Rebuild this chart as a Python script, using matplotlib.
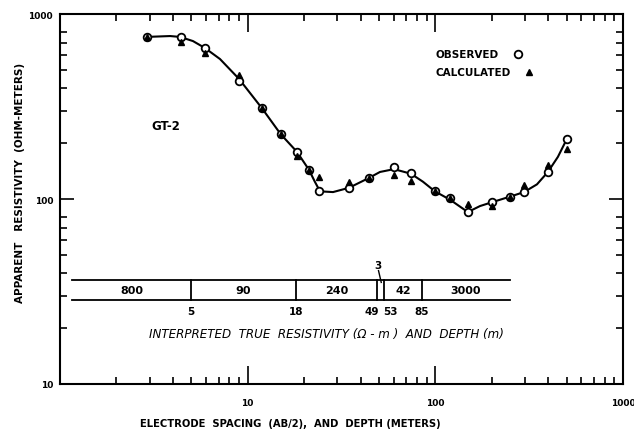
"""Resistivity sounding curve GT-2: observed vs calculated apparent resistivity."""

import matplotlib
matplotlib.use("Agg")
import matplotlib.pyplot as plt
from matplotlib.ticker import FixedLocator, NullFormatter
import numpy as np

# electrode spacing AB/2 (m)
spacing = [2.9, 4.4, 5.9, 9.0, 11.9, 15.0, 18.3, 21.2, 24.0, 34.7, 44.3,
           60.2, 74.1, 99.5, 120, 149, 200, 250, 297, 398, 502]
observed = [752, 752, 655, 434, 310, 224, 180, 144, 110, 115, 130,
            149, 138, 110, 101, 85, 96, 103, 109, 140, 211]
calculated = [752, 706, 615, 468, 310, 224, 171, 144, 132, 124, 130,
              135, 125, 110, 101, 94, 91.6, 103, 119, 153, 186]

# fitted curve as drawn
curve_x = [2.91, 3.86, 4.36, 5.11, 5.92, 7.12, 8.99, 11.9, 15.0, 18.3, 21.2,
           22.8, 24.3, 28.5, 34.7, 44.3, 50.7, 60.2, 74.1, 85.9, 99.5, 120,
           149, 173, 200, 250, 297, 348, 398, 450, 502]
curve_y = [752, 760, 752, 714, 655, 571, 446, 310, 224, 180, 144,
           124, 110, 109, 115, 130, 140, 145, 137, 124, 110, 99,
           85, 91.6, 96, 103, 109, 120, 140, 169, 211]

# interpreted layered model
layer_rho = ["800", "90", "240", "3", "42", "3000"]
layer_depth = [5, 18, 49, 53, 85]
bar_left, bar_right = 1.16, 250
bar_top, bar_bottom = 36.5, 28.3


def ax_frac(px, py):
    # pixel position in the page -> axes fraction
    return (px - 60) / 563, 1 - (py - 15) / 370


fig = plt.figure(figsize=(6.34, 4.35), dpi=100)
ax = fig.add_axes([60 / 634, 1 - 385 / 435, 563 / 634, 370 / 435])
ax.set_xscale("log")
ax.set_yscale("log")
ax.set_xlim(1, 1000)
ax.set_ylim(10, 1000)

ax.plot(curve_x, curve_y, color="black", lw=1.5, zorder=2)
ax.plot(spacing, observed, "o", ms=5.5, mfc="white", mec="black", mew=1.3, zorder=3)
ax.plot(spacing, calculated, "^", ms=5, color="black", zorder=4)

# layer bar
ax.plot([bar_left, bar_right], [bar_top, bar_top], color="black", lw=1.3)
ax.plot([bar_left, bar_right], [bar_bottom, bar_bottom], color="black", lw=1.3)
for d in layer_depth:
    ax.plot([d, d], [bar_bottom, bar_top], color="black", lw=1.3)

edges = [bar_left] + layer_depth + [bar_right]
ymid = np.sqrt(bar_top * bar_bottom)
for i, rho in enumerate(layer_rho):
    xm = np.sqrt(edges[i] * edges[i + 1])
    if rho == "3":
        ax.text(49.5, 44, rho, ha="center", va="center", fontsize=7.5, fontweight="bold")
        ax.plot([49.8, 51.5], [41, bar_top * 0.97], color="black", lw=1)
        continue
    ax.text(xm, ymid, rho, ha="center", va="center", fontsize=8, fontweight="bold")

for d in layer_depth:
    if d == 49:
        ax.text(d * 1.02, 24.8, str(d), ha="right", va="center", fontsize=7.5, fontweight="bold")
    elif d == 53:
        ax.text(d * 0.99, 24.8, str(d), ha="left", va="center", fontsize=7.5, fontweight="bold")
    else:
        ax.text(d, 24.8, str(d), ha="center", va="center", fontsize=7.5, fontweight="bold")

fig.text(326 / 634, 1 - 335 / 435,
         "INTERPRETED  TRUE  RESISTIVITY (\u03a9 - m )  AND  DEPTH (m)",
         ha="center", va="center", fontsize=8.6, style="italic")

ax.text(*ax_frac(151, 127), "GT-2", transform=ax.transAxes, ha="left", va="center",
        fontsize=8.5, fontweight="bold")

# legend
ax.text(*ax_frac(435, 55), "OBSERVED", transform=ax.transAxes,
        ha="left", va="center", fontsize=7.5, fontweight="bold")
ax.text(*ax_frac(435, 73), "CALCULATED", transform=ax.transAxes,
        ha="left", va="center", fontsize=7.5, fontweight="bold")
ox, oy = ax_frac(518, 55)
ax.plot([ox], [oy], "o", ms=5.5, mfc="white", mec="black", mew=1.3,
        transform=ax.transAxes, clip_on=False)
tx, ty = ax_frac(529, 73)
ax.plot([tx], [ty], "^", ms=5, color="black", transform=ax.transAxes, clip_on=False)

ax.set_xlabel("ELECTRODE  SPACING  (AB/2),  AND  DEPTH (METERS)", fontsize=7.2,
              fontweight="bold")
ax.xaxis.set_label_coords(*ax_frac(290, 419))
fig.text(20 / 634, 1 - 183 / 435, "APPARENT   RESISTIVITY  (OHM-METERS)", rotation=90,
         ha="center", va="center", fontsize=7.5, fontweight="bold")

# ticks
ax.xaxis.set_major_locator(FixedLocator([10, 100, 1000]))
ax.xaxis.set_minor_locator(FixedLocator([m * 10 ** e for e in range(3) for m in range(2, 10)]))
ax.yaxis.set_major_locator(FixedLocator([10, 100, 1000]))
ax.yaxis.set_minor_locator(FixedLocator([m * 10 ** e for e in (1, 2) for m in range(2, 9)]))
ax.set_xticklabels(["10", "100", "1000"])
ax.set_yticklabels(["10", "100", "1000"])
ax.xaxis.set_minor_formatter(NullFormatter())
ax.yaxis.set_minor_formatter(NullFormatter())
ax.tick_params(which="both", direction="in", top=True, right=True, width=1.2,
               labelsize=6.5, pad=5)
ax.tick_params(axis="x", which="major", length=13, pad=10)
ax.tick_params(axis="y", which="major", length=10)
ax.tick_params(which="minor", length=5)
for lab in ax.get_xticklabels() + ax.get_yticklabels():
    lab.set_fontweight("bold")
for s in ax.spines.values():
    s.set_linewidth(1.5)

fig.savefig("out.png", dpi=100)
